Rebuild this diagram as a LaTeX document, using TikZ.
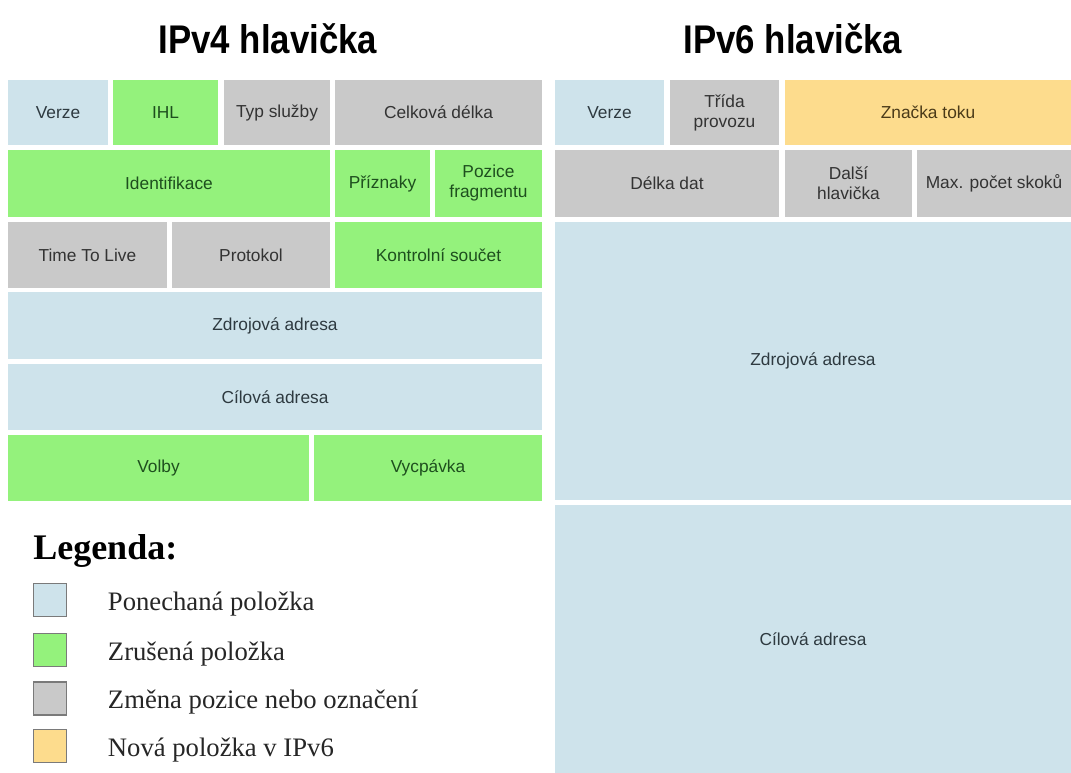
\documentclass[tikz,border=0pt]{standalone}
\usepackage{fontspec}
\setmainfont{Liberation Serif}
\setsansfont{Liberation Sans}
\newfontfamily\headfont[FakeStretch=0.87]{Liberation Sans}
\usetikzlibrary{positioning}

\definecolor{keepblue}{HTML}{CEE3EB}
\definecolor{dropgreen}{HTML}{94F27C}
\definecolor{movegray}{HTML}{C9C9C9}
\definecolor{newyellow}{HTML}{FDDC8D}
\definecolor{keeptext}{HTML}{2E3A40}
\definecolor{droptext}{HTML}{1E4F1E}
\definecolor{movetext}{HTML}{333333}
\definecolor{newtext}{HTML}{4A3A18}
\definecolor{keyframe}{HTML}{7A7A7A}

\begin{document}
\begin{tikzpicture}[x=0.75pt, y=-0.75pt,
    box/.style 2 args={rectangle, inner sep=0pt, align=center,
        font=\sffamily\fontsize{13}{15}\selectfont,
        minimum width=#1*0.75pt, minimum height=#2*0.75pt},
    kept/.style={fill=keepblue, text=keeptext},
    dropped/.style={fill=dropgreen, text=droptext},
    moved/.style={fill=movegray, text=movetext},
    added/.style={fill=newyellow, text=newtext},
    title/.style={anchor=base, font=\headfont\bfseries\fontsize{30}{36}\selectfont},
    key/.style={draw=keyframe, line width=0.8pt, inner sep=0pt, minimum size=33*0.75pt},
    keytext/.style={anchor=base west, inner sep=0pt, font=\fontsize{20}{24}\selectfont, text=black!85}]
    \useasboundingbox[fill=white] (0,0) rectangle (1071,773);
    % Titles
    \node[title] (t4) at (268,54) {IPv4 hlavička};
    \node[title] (t6) at (793,54) {IPv6 hlavička};
    % IPv4 header
    \node[box={100}{65}, kept] (v4ver) at (58,112.5) {Verze};
    \node[box={105}{65}, dropped] (v4ihl) at (165.5,112.5) {IHL};
    \node[box={106}{65}, moved] (v4tos) at (277,112.5) {Typ služby};
    \node[box={207}{65}, moved] (v4len) at (438.5,112.5) {Celková délka};
    \node[box={322}{67}, dropped] (v4id) at (169,183.5) {Identifikace};
    \node[box={95}{67}, dropped] (v4flags) at (382.5,183.5) {Příznaky};
    \node[box={107}{67}, dropped] (v4frag) at (488.5,183.5) {Pozice\\fragmentu};
    \node[box={159}{66}, moved] (v4ttl) at (87.5,255) {Time To Live};
    \node[box={158}{66}, moved] (v4proto) at (251,255) {Protokol};
    \node[box={207}{66}, dropped] (v4sum) at (438.5,255) {Kontrolní součet};
    \node[box={534}{67}, kept] (v4src) at (275,325.5) {Zdrojová adresa};
    \node[box={534}{66}, kept] (v4dst) at (275,397) {Cílová adresa};
    \node[box={301}{66}, dropped] (v4opt) at (158.5,468) {Volby};
    \node[box={228}{66}, dropped] (v4pad) at (428,468) {Vycpávka};
    % IPv6 header
    \node[box={109}{65}, kept] (v6ver) at (609.5,112.5) {Verze};
    \node[box={109}{65}, moved] (v6class) at (724.5,112.5) {Třída\\provozu};
    \node[box={286}{65}, added] (v6flow) at (928,112.5) {Značka toku};
    \node[box={224}{67}, moved] (v6len) at (667,183.5) {Délka dat};
    \node[box={127}{67}, moved] (v6next) at (848.5,183.5) {Další\\hlavička};
    \node[box={154}{67}, moved] (v6hop) at (994,183.5) {Max. počet skoků};
    \node[box={516}{278}, kept] (v6src) at (813,361) {Zdrojová adresa};
    \node[box={516}{268}, kept] (v6dst) at (813,639) {Cílová adresa};
    % Legend
    \node[anchor=base west, inner sep=0pt, font=\bfseries\fontsize{27}{32}\selectfont] (leg) at (33,559) {Legenda:};
    \node[key, fill=keepblue] (k1) at (50,600) {};
    \node[key, fill=dropgreen] (k2) at (50,650) {};
    \node[key, fill=movegray] (k3) at (50,698.5) {};
    \node[key, fill=newyellow] (k4) at (50,746) {};
    \node[keytext] (l1) at ([xshift=30.5pt, yshift=-7.5pt]k1.east) {Ponechaná položka};
    \node[keytext] (l2) at ([xshift=30.5pt, yshift=-7.5pt]k2.east) {Zrušená položka};
    \node[keytext] (l3) at ([xshift=30.5pt, yshift=-7.5pt]k3.east) {Změna pozice nebo označení};
    \node[keytext] (l4) at ([xshift=30.5pt, yshift=-7.5pt]k4.east) {Nová položka v IPv6};
\end{tikzpicture}
\end{document}
